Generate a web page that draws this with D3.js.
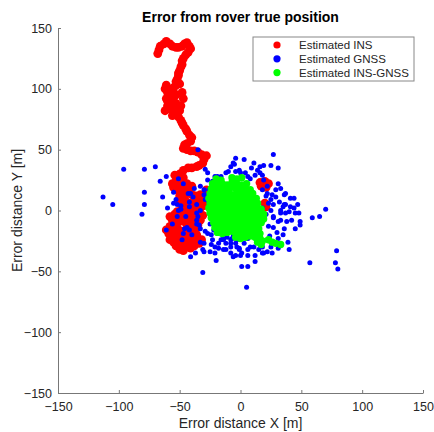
<!DOCTYPE html>
<html>
<head>
<meta charset="utf-8">
<script src="https://cdn.jsdelivr.net/npm/d3@7"></script>
<style>
  body { margin: 0; background: #fff; }
  text { font-family: Arial, "Liberation Sans", sans-serif; }
</style>
</head>
<body>
<div id="chart"></div>
<script>
// Estimated INS error track [x, y] in metres
const insPoints = [
  [-68,129],[-67,132],[-66,135],[-63,137],[-61,139],[-58,137],[-56,135],[-53,134],[-51,134],[-48,135],
  [-46,137],[-44,138],[-42,135],[-41,133],[-43,130],[-45,128],[-47,125],[-48,123],[-48,120],[-49,118],
  [-50,115],[-51,113],[-51,111],[-52,108],[-53,106],[-53,103],[-55,101],[-57,99],[-55,97],[-53,95],
  [-55,93],[-57,91],[-55,89],[-53,88],[-54,85],[-57,83],[-55,81],[-53,79],[-51,77],[-49,74],
  [-61,103],[-50,104],[-62,100],[-60,97],[-48,97],[-61,92],[-47,92],[-60,86],[-49,86],[-62,82],
  [-50,82],[-56,78],[-60,90],[-57,95],
  [-48,72],[-47,70],[-45,67],[-44,65],[-42,62],[-40,60],[-41,57],[-44,55],[-46,54],[-47,51],
  [-44,50],[-41,49],[-38,49],[-35,48],[-32,46],[-30,44],[-28,45],[-30,42],[-31,39],[-34,37],
  [-36,36],[-40,35],[-43,35],[-47,33],[-50,30],[-52,27],[-51,24],
  [-53,24],[-56,22],[-50,21],[-46,19],[-42,18],[-44,15],[-40,13],[-37,12],[-33,13],[-30,11],
  [-34,9],[-38,8],[-42,6],[-46,5],[-48,2],[-45,0],[-42,-2],[-39,-1],[-36,-3],[-40,-5],
  [-44,-7],[-47,-9],[-51,-9],[-55,-11],[-58,-13],[-61,-16],[-59,-19],[-56,-21],[-52,-19],[-48,-17],
  [-44,-15],[-40,-14],[-37,-16],[-36,-20],[-39,-22],[-43,-22],[-47,-24],[-51,-25],[-55,-26],[-58,-24],
  [-53,-29],[-50,-32],[-47,-33],[-44,-30],[-41,-27],[-37,-25],[-34,-27],[-32,-24],[-35,-12],[-33,-8],
  [-31,-4],[-33,2],[-30,6],[-28,17],[-26,13],[-30,4],[-52,-14],[-56,-16],
  [-58,-5],[-54,-3],[-50,-5],[-56,-8],[-52,-1],[-48,-4],[-50,8],[-46,10],[-48,14],[-52,17],
  [-55,19],[-50,12],[-45,-20],[-41,-18],[-49,-21],[-53,-22],[-57,-19],[-45,-26],[-41,-31],[-38,-29],
  [-48,-28],[-44,-11],[-38,-10],[-40,-8],[-38,3],[-35,6],[-40,20],[-44,22],[-47,27],[-54,29],
  [16,23],[20,24],[23,22],[21,19],[17,20],[20,6],[21,3]
];

// Estimated GNSS error points
const gnssPoints = [
  [-113,11],[-105,5],[-96,34],[-79,34],[-70,36],[-81,-3],[-79,15],[-79,5],[-66,24],[-61,28],
  [-64,11],[-60,2],[-61,-16],[-56,-11],[-51,26],[-55,15],[-53,9],[-49,4],[-51,0],[-48,-24],
  [-41,-38],[-31,-51],[-20,-41],[1,-46],[6,-46],[5,-63],[-41,14],[-42,7],[-36,5],[-35,-5],
  [-36,-11],[-29,34],[-27,31],[-35,50],[-46,-15],[-42,-16],[-33,-15],[-27,-19],[-30,-27],[-24,-20],
  [-4,43],[3,42],[-5,38],[11,39],[19,37],[-19,28],[-16,28],[-12,31],[-4,32],[-1,33],
  [4,31],[6,28],[12,29],[16,31],[19,25],[22,20],[-18,-27],[-14,-23],[-8,-24],[-4,-27],
  [-1,-31],[3,-27],[6,-32],[11,-30],[15,-32],[19,-35],[-25,-34],[-18,-31],[-12,-32],[-8,-35],
  [-4,-37],[1,-35],[6,-37],[27,46],[31,35],[25,37],[31,22],[37,14],[41,10],[44,10],
  [47,5],[41,3],[37,5],[32,7],[35,3],[33,-2],[37,-2],[45,-2],[42,-8],[38,-9],
  [33,-8],[27,-6],[27,-14],[36,-15],[45,-15],[49,-12],[49,-9],[59,-6],[65,-5],[70,1],
  [31,-23],[39,-26],[40,-32],[31,-31],[26,-35],[18,-35],[12,-37],[0,-37],[57,-43],[79,-33],
  [78,-43],[80,-48],[22,14],[25,9],[27,5],[25,0],[16,36],[-21,28],[-23,24],[8,26],
  [18,29],[26,13],[29,11],[36,13],[36,5],[33,0],[40,-1],[44,2],[48,-2],[27,-5],
  [31,-9],[-30,13],[-29,9],[-26,17],[-14,17],[-30,-34],[-24,-28],[12,-42],[22,-34],[25,-30],
  [18,-30],[-3,-30],[-8,-27],[-14,-24],[-7,-23],[6,-23],[8,-30],[-1,-32],[-52,5],[-49,1],
  [-47,22],[-43,14],[-42,3],[-39,11],[-36,-8],[-36,-2],[-33,0],[-29,13],[-26,7],[-29,-17],
  [-44,-14],[-47,-19],[-33,-26],[-31,-32],[-23,-24],[-21,-30],[-16,-24],[-12,-27],[-8,-30],[-11,-22],
  [-6,-20],[-25,-11],[-22,-16],[-18,-16],[-15,-19],[-3,-24],[-55,6],[-52,-5],[-34,-12],[-21,-35],
  [-14,-32],[-6,-38],[-23,21],[-10,32],[0,31],[-6,39],[18,17],[21,12],[23,6],[18,2],
  [21,-3],[18,-9],[23,-13],[15,-16],[-30,17],[-27,25],[29,17],[33,18],[30,-18],[35,-20],
  [24,-21],[28,-26],[14,33],[9,35],[-8,36],[-33,20],[-38,18],[-45,-5],[-40,-20],[-37,-35]
];

// Estimated INS-GNSS error cluster
const insGnssPoints = [
  [-20,26],[-16,25],[-7,27],[-3,26],[1,27],
  [-23,22],[-19,21],[-15,22],[-11,21],[-7,23],[-3,22],[1,21],[5,22],
  [-24,18],[-20,17],[-16,18],[-12,17],[-8,19],[-4,18],[0,17],[4,18],[8,17],
  [-25,14],[-21,13],[-17,14],[-13,15],[-9,14],[-5,13],[-1,14],[3,15],[7,13],[10,14],
  [-26,10],[-22,9],[-18,10],[-14,11],[-10,10],[-6,9],[-2,10],[2,11],[6,10],[10,9],[13,10],
  [-25,6],[-21,5],[-17,6],[-13,7],[-9,6],[-5,5],[-1,6],[3,7],[7,6],[11,5],[14,6],
  [-26,2],[-22,1],[-18,2],[-14,3],[-10,2],[-6,1],[-2,2],[2,3],[6,2],[10,1],[14,2],[17,1],
  [-25,-2],[-21,-3],[-17,-2],[-13,-1],[-9,-2],[-5,-3],[-1,-2],[3,-1],[7,-2],[11,-3],[15,-2],[19,-3],
  [-24,-6],[-20,-7],[-16,-6],[-12,-5],[-8,-6],[-4,-7],[0,-6],[4,-5],[8,-6],[12,-7],[16,-6],[19,-7],
  [-22,-10],[-18,-11],[-14,-10],[-10,-9],[-6,-10],[-2,-11],[2,-10],[6,-9],[10,-10],[14,-11],[17,-10],
  [-21,-14],[-17,-15],[-13,-14],[-9,-13],[-5,-14],[-1,-15],[3,-14],[7,-13],[11,-14],[15,-15],
  [-19,-18],[-15,-19],[-11,-18],[-7,-17],[-3,-18],[1,-19],[5,-18],[9,-17],[13,-18],[16,-19],
  [-4,-22],[0,-23],[4,-22],[8,-21],[12,-22],[16,-23],
  [18,-25],[14,-26],[17,-28],[23,-24],[26,-26],[29,-27],[33,-28]
];

const xTicks = [-150, -100, -50, 0, 50, 100, 150];
const yTicks = [-150, -100, -50, 0, 50, 100, 150];
const seriesNames = ["Estimated INS", "Estimated GNSS", "Estimated INS-GNSS"];
const seriesColors = ["#ff0000", "#0000ff", "#00ff00"];

const width = 434, height = 432;
const plot = { left: 58, right: 423, top: 28, bottom: 393 };
const textColor = "#262626";

const svg = d3.select("#chart").append("svg")
  .attr("width", width)
  .attr("height", height);

const x = d3.scaleLinear().domain([-150, 150]).range([plot.left, plot.right]);
const y = d3.scaleLinear().domain([-150, 150]).range([plot.bottom, plot.top]);

// scatter series, drawn in legend order
const series = [insPoints, gnssPoints, insGnssPoints];
const radii = [4.4, 2.5, 3.7];
series.forEach((pts, i) => {
  svg.append("g")
    .selectAll("circle")
    .data(pts)
    .enter()
    .append("circle")
    .attr("cx", d => x(d[0]))
    .attr("cy", d => y(d[1]))
    .attr("r", radii[i])
    .attr("fill", seriesColors[i]);
});

// axes (MATLAB style: ticks inside, no box)
const xAxis = svg.append("g")
  .attr("transform", `translate(0,${plot.bottom})`)
  .call(d3.axisBottom(x).tickValues(xTicks).tickSize(-3).tickSizeOuter(0).tickPadding(9));
const yAxis = svg.append("g")
  .attr("transform", `translate(${plot.left},0)`)
  .call(d3.axisLeft(y).tickValues(yTicks).tickSize(-3).tickSizeOuter(0).tickPadding(6));

[xAxis, yAxis].forEach(g => {
  g.attr("font-family", null).attr("font-size", null);
  g.select(".domain").attr("stroke", "#777");
  g.selectAll(".tick line").attr("stroke", "#777");
  g.selectAll(".tick text").attr("fill", textColor).style("font-size", "12.5px");
});

// title and axis labels
svg.append("text")
  .attr("x", (plot.left + plot.right) / 2)
  .attr("y", 22)
  .attr("text-anchor", "middle")
  .attr("font-weight", "bold")
  .attr("fill", "#000")
  .style("font-size", "14px")
  .text("Error from rover true position");

svg.append("text")
  .attr("x", (plot.left + plot.right) / 2)
  .attr("y", 428)
  .attr("text-anchor", "middle")
  .attr("fill", textColor)
  .style("font-size", "14px")
  .text("Error distance X [m]");

svg.append("text")
  .attr("transform", `translate(22,${(plot.top + plot.bottom) / 2}) rotate(-90)`)
  .attr("text-anchor", "middle")
  .attr("fill", textColor)
  .style("font-size", "14px")
  .text("Error distance Y [m]");

// legend
const legend = svg.append("g").attr("transform", "translate(253,37)");
legend.append("rect")
  .attr("width", 161)
  .attr("height", 44)
  .attr("fill", "#fff")
  .attr("stroke", "#888")
  .attr("stroke-width", 1);
seriesNames.forEach((name, i) => {
  const row = legend.append("g").attr("transform", `translate(0,${8 + i * 13.8})`);
  row.append("circle").attr("cx", 24).attr("cy", 0).attr("r", 3.6).attr("fill", seriesColors[i]);
  row.append("text")
    .attr("x", 46)
    .attr("y", 4)
    .attr("fill", textColor)
    .style("font-size", "11.5px")
    .text(name);
});
</script>
</body>
</html>
